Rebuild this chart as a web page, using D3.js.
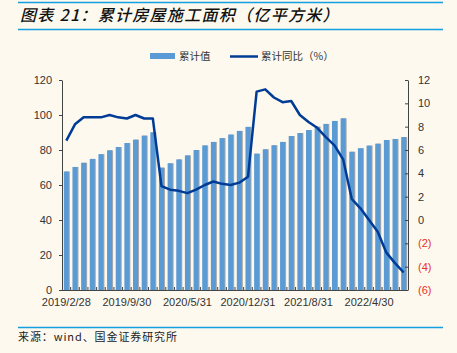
<!DOCTYPE html>
<html>
<head>
<meta charset="utf-8">
<script src="https://cdn.jsdelivr.net/npm/d3@7"></script>
<style>
  body { margin: 0; background: #fdf9ee; }
  svg { display: block; font-family: "Liberation Sans", Arial, sans-serif; }
  .cjk { font-family: "Noto Sans CJK SC", sans-serif; }
</style>
</head>
<body>
<svg id="chart" width="457" height="353"></svg>
<script>
// month-end dates (no January: Jan-Feb are reported together)
var dates = [
  "2019/2/28", "2019/3/31", "2019/4/30", "2019/5/31", "2019/6/30", "2019/7/31", "2019/8/31", "2019/9/30", "2019/10/31", "2019/11/30", "2019/12/31",
  "2020/2/29", "2020/3/31", "2020/4/30", "2020/5/31", "2020/6/30", "2020/7/31", "2020/8/31", "2020/9/30", "2020/10/31", "2020/11/30", "2020/12/31",
  "2021/2/28", "2021/3/31", "2021/4/30", "2021/5/31", "2021/6/30", "2021/7/31", "2021/8/31", "2021/9/30", "2021/10/31", "2021/11/30", "2021/12/31",
  "2022/2/28", "2022/3/31", "2022/4/30", "2022/5/31", "2022/6/30", "2022/7/31", "2022/8/31"
]
// 累计值 (亿平方米)
var cumValue = [
  67.7, 70.3, 72.7, 74.9, 77.6, 79.8, 81.7, 84.0, 85.9, 88.2, 90.1,
  69.9, 72.4, 74.6, 76.9, 80.0, 82.6, 84.6, 86.8, 88.8, 90.9, 93.2,
  77.9, 80.4, 82.7, 84.6, 88.0, 89.7, 91.4, 93.3, 94.9, 96.6, 98.1,
  79.0, 81.0, 82.5, 83.6, 85.7, 86.3, 87.4
]
// 累计同比 (%)
var cumYoy = [
  6.8, 8.2, 8.8, 8.8, 8.8, 9.0, 8.8, 8.7, 9.0, 8.7, 8.7,
  2.9, 2.6, 2.5, 2.3, 2.6, 3.0, 3.3, 3.1, 3.0, 3.2, 3.7,
  11.0, 11.2, 10.5, 10.1, 10.2, 9.0, 8.4, 7.9, 7.1, 6.4, 5.2,
  1.8, 1.0, 0.0, -1.0, -2.8, -3.7, -4.5
]
var xTickLabels = ["2019/2/28", "2019/9/30", "2020/5/31", "2020/12/31", "2021/8/31", "2022/4/30"]
var leftTicks = [0, 20, 40, 60, 80, 100, 120]
var rightTicks = [-6, -4, -2, 0, 2, 4, 6, 8, 10, 12]

var svg = d3.select("#chart")
var margin = { top: 80, left: 62, bottom: 63, right: 50 }
var width = 457 - margin.left - margin.right
var height = 353 - margin.top - margin.bottom

var barColor = "#5b9bd5"
var lineColor = "#003c96"
var ruleColor = "#12a0e3"
var axisColor = "#444"

// header / footer rules
svg.append("line").attr("x1", 18).attr("x2", 443).attr("y1", 2.5).attr("y2", 2.5)
    .attr("stroke", ruleColor).attr("stroke-width", 1.5)
svg.append("line").attr("x1", 18).attr("x2", 443).attr("y1", 29.5).attr("y2", 29.5)
    .attr("stroke", ruleColor).attr("stroke-width", 1.5)
svg.append("line").attr("x1", 18).attr("x2", 443).attr("y1", 327.5).attr("y2", 327.5)
    .attr("stroke", ruleColor).attr("stroke-width", 1.5)

svg.append("text").attr("class", "cjk")
    .attr("x", 20).attr("y", 21)
    .attr("font-size", 16).attr("font-style", "italic").attr("font-weight", 500)
    .attr("letter-spacing", 1.3)
    .attr("fill", "#111")
    .text("图表 21：累计房屋施工面积（亿平方米）")

svg.append("text").attr("class", "cjk")
    .attr("x", 18).attr("y", 341)
    .attr("font-size", 11).attr("letter-spacing", 0.9).attr("fill", "#222")
    .text("来源：wind、国金证券研究所")

// legend
var legend = svg.append("g").attr("class", "cjk").attr("font-size", 10.5).attr("fill", "#333")
legend.append("rect").attr("x", 150).attr("y", 53).attr("width", 25).attr("height", 6).attr("fill", barColor)
legend.append("text").attr("x", 179).attr("y", 60).text("累计值")
legend.append("line").attr("x1", 230).attr("x2", 258).attr("y1", 56.5).attr("y2", 56.5)
    .attr("stroke", lineColor).attr("stroke-width", 2.5)
legend.append("text").attr("x", 261).attr("y", 60).text("累计同比（%）")

var g = svg.append("g").attr("transform", `translate(${margin.left},${margin.top})`)

var X_scale = d3.scaleBand().domain(dates).range([0, width + 1]).paddingInner(0.42).paddingOuter(0.21)
var Y_left = d3.scaleLinear().domain([0, 120]).range([height, 0])
var Y_right = d3.scaleLinear().domain([-6, 12]).range([height, 0])

// bars with a thin grey shadow on the right
g.selectAll("rect.shadow")
    .data(dates)
    .join("rect")
    .attr("class", "shadow")
    .attr("x", d => X_scale(d) + 1)
    .attr("y", (d, i) => Y_left(cumValue[i]))
    .attr("width", X_scale.bandwidth())
    .attr("height", (d, i) => height - Y_left(cumValue[i]))
    .attr("fill", "#a9a9a9")

g.selectAll("rect.bar")
    .data(dates)
    .join("rect")
    .attr("class", "bar")
    .attr("x", d => X_scale(d))
    .attr("y", (d, i) => Y_left(cumValue[i]))
    .attr("width", X_scale.bandwidth())
    .attr("height", (d, i) => height - Y_left(cumValue[i]))
    .attr("fill", barColor)

var line = d3.line()
    .x((d, i) => X_scale(dates[i]) + X_scale.bandwidth() / 2)
    .y(d => Y_right(d))

g.append("path")
    .datum(cumYoy)
    .attr("d", line)
    .attr("fill", "none")
    .attr("stroke", lineColor)
    .attr("stroke-width", 2.5)
    .attr("stroke-linejoin", "round")

// left axis
var leftAxis = g.append("g")
    .call(d3.axisLeft(Y_left).tickValues(leftTicks).tickSize(3).tickSizeOuter(0))
leftAxis.selectAll("text").attr("font-size", 11).attr("fill", "#333").attr("dx", -4)

// right axis
var rightAxis = g.append("g")
    .attr("transform", `translate(${width + 1},0)`)
    .call(d3.axisRight(Y_right).tickValues(rightTicks).tickSize(-3).tickSizeOuter(0)
        .tickFormat(d => d < 0 ? `(${-d})` : d))
rightAxis.selectAll("text")
    .attr("font-size", 11).attr("x", 10)
    .attr("fill", d => d < 0 ? "#e8302a" : "#333")

// bottom axis: small ticks at every category boundary, labels every 7 months
var bottom = g.append("g").attr("transform", `translate(0,${height})`)
bottom.append("line").attr("x1", 0).attr("x2", width + 1).attr("y1", 0.5).attr("y2", 0.5)
    .attr("stroke", axisColor)
bottom.selectAll("line.tick")
    .data(dates.slice(1))
    .join("line")
    .attr("class", "tick")
    .attr("x1", d => X_scale(d) - X_scale.step() * X_scale.paddingInner() / 2)
    .attr("x2", d => X_scale(d) - X_scale.step() * X_scale.paddingInner() / 2)
    .attr("y1", 0).attr("y2", -3)
    .attr("stroke", axisColor)
bottom.selectAll("text")
    .data(xTickLabels)
    .join("text")
    .attr("x", d => X_scale(d) + X_scale.bandwidth() / 2)
    .attr("y", 16)
    .attr("text-anchor", "middle")
    .attr("font-size", 11)
    .attr("fill", "#333")
    .text(d => d)

svg.selectAll(".domain").attr("stroke", axisColor)
svg.selectAll(".tick line").attr("stroke", axisColor)
</script>
</body>
</html>
